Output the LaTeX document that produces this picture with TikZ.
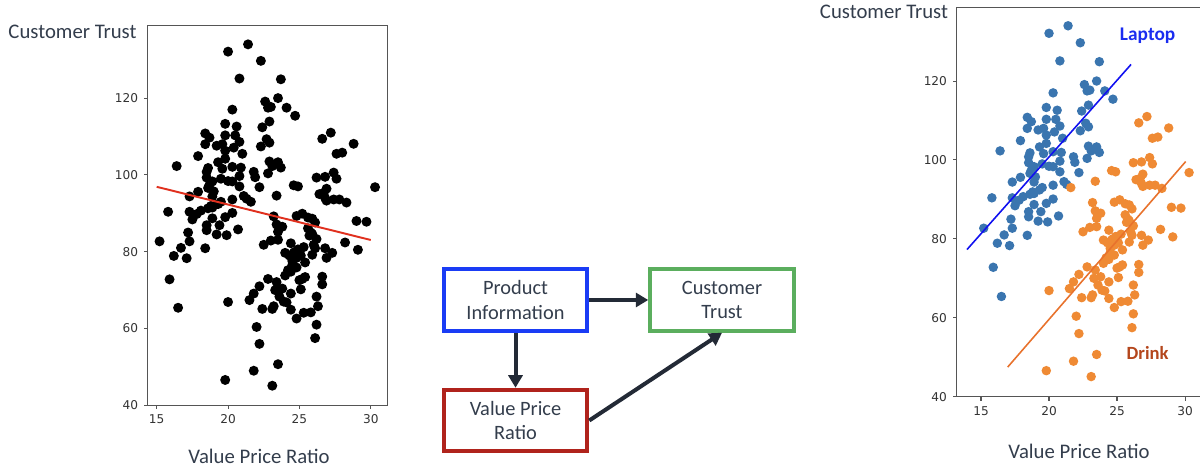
\documentclass[tikz,border=0pt]{standalone}
\usepackage{fontspec}
\setmainfont{Carlito}
\newfontfamily\tickfont{DejaVu Sans}
\usetikzlibrary{positioning,arrows.meta}

\definecolor{inkgray}{HTML}{333D4C}
\definecolor{axisgray}{HTML}{555555}
\definecolor{laptopdot}{HTML}{3A75AF}
\definecolor{drinkdot}{HTML}{EF8A34}
\definecolor{laptopline}{HTML}{1010F0}
\definecolor{drinkline}{HTML}{E8722C}
\definecolor{laptoptext}{HTML}{1A2CF0}
\definecolor{drinktext}{HTML}{B4461C}
\definecolor{fitred}{HTML}{E0301E}
\definecolor{boxblue}{HTML}{1A3CF5}
\definecolor{boxgreen}{HTML}{5BAE5E}
\definecolor{boxred}{HTML}{B0231C}
\definecolor{arrowink}{HTML}{232A36}

% value price ratio / customer trust
\def\laptoppts{21.4/134.0, 20.0/132.1, 22.3/129.7, 20.8/125.1, 23.7/124.9, 23.5/120.0, 22.6/119.1, 22.8/117.5, 23.0/117.7, 24.1/117.5, 24.7/115.4, 20.3/117.0, 22.9/113.9, 19.8/113.3, 20.6/112.6, 22.4/112.4, 18.4/110.8, 18.7/109.7, 19.8/110.3, 20.5/110.3, 20.8/108.6, 18.4/108.0, 22.7/109.3, 22.9/108.4, 22.3/107.4, 19.2/107.6, 19.6/108.0, 20.4/107.1, 19.8/106.3, 21.0/105.5, 17.9/104.9, 19.8/104.2, 19.3/103.3, 16.4/102.3, 18.6/101.8, 18.5/100.8, 19.6/101.6, 20.3/102.1, 20.9/101.9, 22.9/103.5, 23.5/103.3, 23.1/102.3, 23.7/101.9, 22.8/100.4, 21.8/100.8, 21.9/99.4, 18.5/99.3, 18.9/98.3, 18.7/97.4, 19.5/99.0, 20.0/98.4, 20.8/99.7, 20.3/98.3, 20.8/97.0, 22.2/96.8, 18.6/96.6, 19.0/95.7, 17.9/95.6, 17.3/94.4, 18.9/94.4, 21.1/94.5, 21.3/93.8, 20.3/93.6, 19.5/93.0, 19.3/92.4, 18.9/91.5, 18.6/91.3, 18.8/91.9, 18.1/90.7, 17.8/89.8, 15.8/90.4, 17.3/90.4, 17.5/88.4, 20.3/90.1, 18.9/88.7, 19.8/89.0, 18.5/86.9, 19.4/86.9, 18.5/85.6, 17.2/85.0, 19.2/84.5, 19.9/84.3, 20.7/85.8, 15.2/82.7, 17.3/82.7, 16.7/81.0, 18.4/80.9, 16.2/78.9, 17.1/78.3, 15.9/72.8, 16.5/65.4}
\def\drinkpts{21.6/93.0, 23.4/94.6, 26.6/109.4, 27.2/111.0, 28.8/108.1, 27.6/105.5, 28.0/105.8, 24.6/97.3, 24.9/97.0, 26.2/99.3, 26.8/99.5, 27.4/100.6, 27.6/99.0, 30.3/96.8, 26.9/96.4, 26.4/95.0, 26.7/95.3, 26.8/94.0, 26.9/93.3, 27.4/93.6, 27.8/93.6, 28.3/92.8, 23.2/89.2, 23.4/87.1, 23.8/86.5, 23.5/85.2, 24.8/89.3, 25.2/89.9, 25.6/88.9, 25.9/88.6, 26.1/87.6, 25.6/86.1, 25.8/85.0, 25.9/84.6, 25.7/84.2, 26.2/83.3, 29.0/88.0, 29.7/87.8, 22.5/81.8, 23.0/82.9, 23.5/83.1, 24.4/82.2, 24.0/79.7, 24.6/79.7, 24.8/78.4, 24.5/77.6, 26.0/81.8, 26.1/80.9, 25.9/79.2, 26.8/80.9, 26.9/78.4, 27.3/79.7, 28.2/82.4, 29.1/80.5, 25.4/77.2, 24.8/75.9, 24.4/74.8, 24.0/73.8, 22.8/72.9, 23.4/72.1, 25.2/72.9, 25.4/73.4, 26.6/73.5, 26.6/71.5, 22.2/71.0, 21.8/69.1, 21.5/67.4, 23.3/70.0, 23.8/70.4, 25.1/70.2, 24.4/69.1, 23.6/68.3, 23.9/67.0, 24.1/66.8, 20.0/66.9, 22.4/65.1, 23.1/65.1, 23.2/65.8, 24.4/64.9, 24.8/62.6, 25.3/64.1, 25.8/64.2, 26.3/65.8, 26.2/68.3, 26.2/61.0, 22.0/60.4, 22.2/56.0, 26.1/57.5, 23.5/50.7, 21.8/49.0, 19.8/46.6, 23.1/45.1, 24.9/80.6, 25.1/79.0, 24.3/79.0, 25.3/81.2, 24.7/80.0, 24.5/76.5, 24.2/75.2, 25.0/72.6}

\begin{document}
\begin{tikzpicture}
    \tikzstyle{box}=[draw,line width=0.08cm,minimum width=2.87cm,minimum height=1.23cm,align=center,text=inkgray,font=\fontsize{11.6}{13.7}\selectfont]
    \tikzstyle{arrow}=[draw=arrowink,line width=0.08cm,-{Triangle[length=0.25cm,width=0.28cm]}]
    \tikzstyle{axislbl}=[text=inkgray,font=\fontsize{11.8}{14}\selectfont]
    \tikzstyle{ticklbl}=[text=black!80,font=\tickfont\fontsize{6.9}{8}\selectfont,inner sep=3pt]
    \tikzstyle{frame}=[draw=axisgray,line width=0.6pt]
    \useasboundingbox (0,0) rectangle (24,9.36);

    % plain scatter
    \begin{scope}[shift={(-1.147cm,-1.818cm)},x=0.2854cm,y=0.0768cm]
        \foreach \vx/\vy in \laptoppts
            \fill (\vx,\vy) circle[radius=0.1cm];
        \foreach \vx/\vy in \drinkpts
            \fill (\vx,\vy) circle[radius=0.1cm];
        \draw[fitred,line width=1.1pt] (15,96.9) -- (30,83.05);
        \draw[frame] (14.37,40) rectangle (31.2,138.8);
        \foreach \ty in {40,60,...,120}{
            \draw[frame] (14.37,\ty) -- ++(-0.08cm,0);
            \node[ticklbl,anchor=east] (ly\ty) at ([xshift=-0.08cm]14.37,\ty) {\ty};
        }
        \foreach \tx in {15,20,25,30}{
            \draw[frame] (\tx,40) -- ++(0,-0.08cm);
            \node[ticklbl,anchor=north] (lx\tx) at ([yshift=-0.08cm]\tx,40) {\tx};
        }
    \end{scope}
    \node[axislbl] (L-y) at (1.45,8.72) {Customer Trust};
    \node[axislbl] (L-x) at (5.18,0.23) {Value Price Ratio};

    % causal graph
    \node[box,draw=boxblue] (prod) at (10.31,3.36) {Product\\Information};
    \node[box,draw=boxgreen,right=1.18cm of prod] (cust) {Customer\\Trust};
    \node[box,draw=boxred,below=1.1cm of prod] (vpr) {Value Price\\Ratio};
    \foreach \from/\to in {prod.east/cust.west, prod.south/vpr.north, vpr.east/cust.south}
        \draw[arrow] (\from) -- (\to);

    % split by category
    \begin{scope}[shift={(15.54cm,-1.731cm)},x=0.272cm,y=0.07892cm]
        \foreach \vx/\vy in \laptoppts
            \fill[laptopdot] (\vx,\vy) circle[radius=0.095cm];
        \foreach \vx/\vy in \drinkpts
            \fill[drinkdot] (\vx,\vy) circle[radius=0.095cm];
        \draw[laptopline,line width=0.9pt] (13.97,77.3) -- (26.03,124.2);
        \draw[drinkline,line width=0.9pt] (16.96,47.5) -- (30.05,99.6);
        \node[text=laptoptext,font=\bfseries\fontsize{11}{13}\selectfont] (lap) at (27.25,131.4) {Laptop};
        \node[text=drinktext,font=\bfseries\fontsize{10.6}{13}\selectfont] (drk) at (27.25,51.0) {Drink};
        \draw[frame] (31.5,138.7) -- (13.2,138.7) -- (13.2,40) -- (31.5,40);
        \foreach \ty in {40,60,...,120}{
            \draw[frame] (13.2,\ty) -- ++(-0.08cm,0);
            \node[ticklbl,anchor=east] (ry\ty) at ([xshift=-0.08cm]13.2,\ty) {\ty};
        }
        \foreach \tx in {15,20,25,30}{
            \draw[frame] (\tx,40) -- ++(0,-0.08cm);
            \node[ticklbl,anchor=north] (rx\tx) at ([yshift=-0.08cm]\tx,40) {\tx};
        }
    \end{scope}
    \node[axislbl] (R-y) at (17.68,9.12) {Customer Trust};
    \node[axislbl] (R-x) at (21.58,0.33) {Value Price Ratio};
\end{tikzpicture}
\end{document}
